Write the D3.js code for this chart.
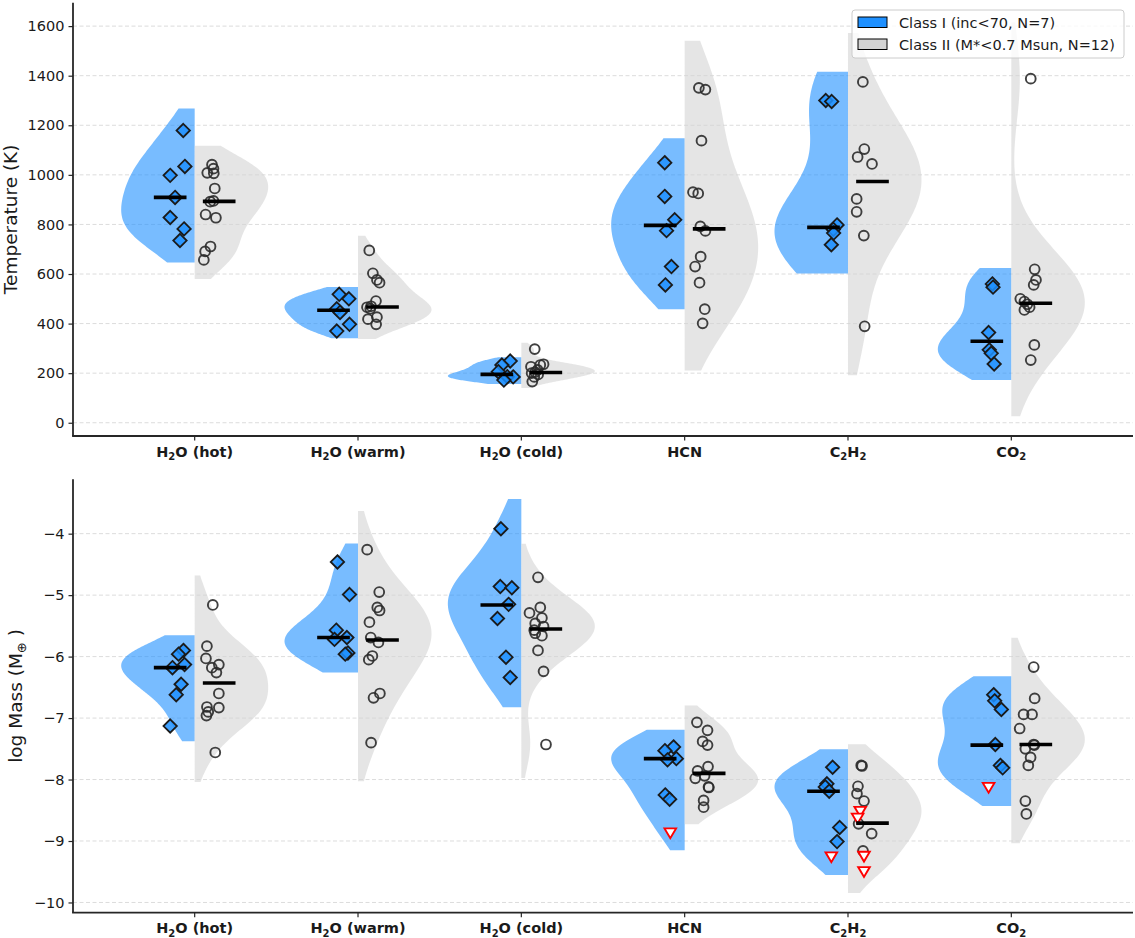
<!DOCTYPE html>
<html>
<head>
<meta charset="utf-8">
<script src="https://cdn.jsdelivr.net/npm/d3@7"></script>
<style>
  body { margin: 0; background: #fff; }
  svg { display: block; font-family: "DejaVu Sans", sans-serif; }
</style>
</head>
<body>
<svg id="chart" width="1135" height="938"></svg>
<script>
// categories ("_2" marks a subscript digit)
const categories = ["H_2O (hot)", "H_2O (warm)", "H_2O (cold)", "HCN", "C_2H_2", "CO_2"];
const tempTicks = [0, 200, 400, 600, 800, 1000, 1200, 1400, 1600];
const massTicks = [-10, -9, -8, -7, -6, -5, -4];
const legendLabels = ["Class I (inc<70, N=7)", "Class II (M*<0.7 Msun, N=12)"];

// temperature (K), Class I
const tempClassI = [
  [1179, 1034, 998, 909, 828, 782, 735],
  [518, 500, 460, 445, 397, 370],
  [249, 233, 206, 186, 185, 172],
  [1049, 913, 819, 775, 630, 556],
  [1300, 1296, 798, 780, 765, 718],
  [560, 547, 364, 294, 280, 237]
];
const tempClassIJitter = [
  [-0.07, -0.06, -0.15, -0.12, -0.15, -0.065, -0.09],
  [-0.115, -0.056, -0.13, -0.11, -0.052, -0.13],
  [-0.068, -0.119, -0.141, -0.086, -0.05, -0.107],
  [-0.122, -0.122, -0.061, -0.111, -0.081, -0.118],
  [-0.136, -0.1, -0.067, -0.09, -0.088, -0.102],
  [-0.116, -0.112, -0.139, -0.135, -0.123, -0.105]
];
const tempClassIMedian = [909, 454, 195, 796, 788, 329];

// temperature (K), Class II
const tempClassII = [
  [1041, 1025, 1008, 1006, 945, 895, 892, 840, 827, 711, 691, 657],
  [695, 603, 576, 565, 491, 470, 466, 460, 426, 418, 397],
  [297, 236, 233, 226, 213, 204, 200, 195, 185, 166],
  [1351, 1344, 1138, 930, 925, 792, 774, 670, 630, 565, 458, 401],
  [1375, 1104, 1072, 1044, 903, 851, 755, 389],
  [1388, 619, 576, 556, 500, 489, 478, 466, 455, 314, 253]
];
const tempClassIIJitter = [
  [0.106, 0.115, 0.077, 0.117, 0.123, 0.115, 0.095, 0.067, 0.13, 0.097, 0.064, 0.056],
  [0.069, 0.091, 0.116, 0.132, 0.11, 0.08, 0.055, 0.075, 0.116, 0.061, 0.111],
  [0.082, 0.136, 0.116, 0.059, 0.1, 0.085, 0.063, 0.103, 0.079, 0.067],
  [0.087, 0.127, 0.103, 0.051, 0.083, 0.096, 0.127, 0.098, 0.064, 0.091, 0.123, 0.11],
  [0.091, 0.1, 0.059, 0.147, 0.053, 0.053, 0.097, 0.102],
  [0.119, 0.143, 0.151, 0.137, 0.055, 0.08, 0.098, 0.112, 0.08, 0.141, 0.119]
];
const tempClassIIMedian = [893, 467, 203, 782, 973, 482];

// log mass (M_earth), Class I detections and upper limits
const massClassI = [
  [-5.90, -5.96, -6.13, -6.18, -6.45, -6.62, -7.13],
  [-4.46, -4.99, -5.57, -5.69, -5.72, -5.94, -5.96],
  [-3.92, -4.86, -4.88, -5.15, -5.38, -6.01, -6.34],
  [-7.47, -7.53, -7.66, -7.68, -8.25, -8.32],
  [-7.80, -8.07, -8.12, -8.19, -8.78, -9.01],
  [-6.62, -6.72, -6.86, -7.43, -7.77, -7.81]
];
const massClassIJitter = [
  [-0.069, -0.099, -0.062, -0.136, -0.083, -0.113, -0.15],
  [-0.126, -0.052, -0.133, -0.068, -0.144, -0.062, -0.078],
  [-0.125, -0.129, -0.058, -0.078, -0.146, -0.094, -0.068],
  [-0.068, -0.121, -0.051, -0.105, -0.119, -0.092],
  [-0.094, -0.129, -0.139, -0.115, -0.051, -0.067],
  [-0.108, -0.102, -0.061, -0.098, -0.067, -0.053]
];
const massClassILimits = [[], [], [], [-8.87], [-9.26], [-8.13]];
const massClassILimitsJitter = [[], [], [], [-0.088], [-0.102], [-0.139]];
const massClassIMedian = [-6.18, -5.69, -5.16, -7.66, -8.19, -7.44];

// log mass (M_earth), Class II detections and upper limits
const massClassII = [
  [-5.16, -5.83, -6.03, -6.13, -6.18, -6.26, -6.60, -6.82, -6.83, -6.90, -6.96, -7.56],
  [-4.26, -4.95, -5.20, -5.25, -5.44, -5.69, -5.77, -5.99, -6.05, -6.60, -6.67, -7.40],
  [-4.71, -5.20, -5.29, -5.37, -5.46, -5.51, -5.57, -5.62, -5.66, -5.90, -6.24, -7.43],
  [-7.07, -7.20, -7.38, -7.44, -7.79, -7.86, -7.94, -7.98, -8.12, -8.13, -8.34, -8.45],
  [-7.77, -7.78, -8.11, -8.23, -8.35, -8.72, -8.88, -9.16],
  [-6.17, -6.68, -6.94, -6.94, -7.17, -7.43, -7.44, -7.50, -7.64, -7.77, -8.35, -8.56]
];
const massClassIIJitter = [
  [0.111, 0.075, 0.069, 0.148, 0.105, 0.133, 0.148, 0.075, 0.148, 0.083, 0.072, 0.126],
  [0.056, 0.13, 0.118, 0.132, 0.07, 0.078, 0.125, 0.088, 0.066, 0.134, 0.095, 0.08],
  [0.102, 0.116, 0.05, 0.126, 0.085, 0.136, 0.079, 0.085, 0.126, 0.102, 0.136, 0.151],
  [0.075, 0.14, 0.11, 0.14, 0.143, 0.079, 0.122, 0.065, 0.146, 0.148, 0.116, 0.116],
  [0.081, 0.086, 0.061, 0.055, 0.098, 0.065, 0.145, 0.092],
  [0.137, 0.143, 0.075, 0.127, 0.051, 0.137, 0.141, 0.086, 0.118, 0.104, 0.086, 0.092]
];
const massClassIILimits = [[], [], [], [], [-8.52, -8.63, -9.25, -9.50], []];
const massClassIILimitsJitter = [[], [], [], [], [0.075, 0.059, 0.098, 0.098], []];
const massClassIIMedian = [-6.43, -5.73, -5.55, -7.90, -8.71, -7.43];

const blue = "#1E90FF", grey = "#D3D3D3";
const svg = d3.select("#chart");
const left = 73, right = 1133;

const x = d3.scaleLinear().domain([-0.745, 5.745]).range([left, right]);

// gaussian kde, scott bandwidth, support extended by 20% of the data range
function halfViolin(vals) {
  const n = vals.length, sd = d3.deviation(vals);
  const bw = sd * Math.pow(n, -0.2);
  const [lo, hi] = d3.extent(vals), r = hi - lo;
  const a = lo - 0.2 * r, b = hi + 0.2 * r;
  const grid = d3.range(121).map(i => a + (b - a) * i / 120);
  const dens = grid.map(t => d3.sum(vals, v => Math.exp(-0.5 * ((t - v) / bw) ** 2)));
  const mx = d3.max(dens);
  return grid.map((t, i) => [t, dens[i] / mx]);
}

const diamond = { draw(ctx, s) { ctx.moveTo(0, -s); ctx.lineTo(s, 0); ctx.lineTo(0, s); ctx.lineTo(-s, 0); ctx.closePath(); } };
const triDown = { draw(ctx, s) { ctx.moveTo(-s, -s * 0.8); ctx.lineTo(s, -s * 0.8); ctx.lineTo(0, s * 0.9); ctx.closePath(); } };

function addLabel(sel, label) {
  const parts = label.split(/_(\d)/);
  parts.forEach((p, i) => {
    if (!p) return;
    if (i % 2 === 1) {
      sel.append("tspan").attr("font-size", 10).attr("dy", 3.5).text(p);
    } else {
      const t = sel.append("tspan").text(p);
      if (i > 0 && parts[i - 1]) t.attr("dy", -3.5);
    }
  });
}

function drawPanel(opt) {
  const g = svg.append("g");
  const { top, bottom } = opt;
  const all = [];
  opt.series.forEach(s => s.vals.forEach((v, i) => all.push(v.concat(s.lims[i]))));
  let lo = Infinity, hi = -Infinity;
  all.forEach(v => { const [a, b] = d3.extent(v); const r = b - a; lo = Math.min(lo, a - 0.2 * r); hi = Math.max(hi, b + 0.2 * r); });
  const pad = 0.05 * (hi - lo);
  const y = d3.scaleLinear().domain([lo - pad, hi + pad]).range([bottom, top]);

  // grid
  g.append("g").selectAll("line").data(opt.ticks).join("line")
    .attr("x1", left).attr("x2", right)
    .attr("y1", d => y(d)).attr("y2", d => y(d))
    .attr("stroke", "#dcdcdc").attr("stroke-width", 1).attr("stroke-dasharray", "4,2.5");

  // violins
  opt.series.forEach(s => {
    s.vals.forEach((v, i) => {
      const dens = halfViolin(v.concat(s.lims[i]));
      const area = d3.area()
        .y(d => y(d[0]))
        .x0(() => x(i))
        .x1(d => x(i + s.side * 0.45 * d[1]));
      g.append("path").attr("d", area(dens)).attr("fill", s.color).attr("fill-opacity", 0.6);
    });
  });

  // points
  opt.series.forEach(s => {
    s.vals.forEach((v, i) => {
      const pts = v.map((val, k) => [i + s.jit[i][k], val]);
      if (s.marker === "D") {
        g.append("g").selectAll("path").data(pts).join("path")
          .attr("d", d3.symbol(diamond, 6.7))
          .attr("transform", d => `translate(${x(d[0])},${y(d[1])})`)
          .attr("fill", blue).attr("fill-opacity", 0.85)
          .attr("stroke", "#1a1a1a").attr("stroke-width", 1.8).attr("stroke-linejoin", "miter");
      } else {
        g.append("g").selectAll("circle").data(pts).join("circle")
          .attr("cx", d => x(d[0])).attr("cy", d => y(d[1])).attr("r", 4.9)
          .attr("fill", "none").attr("stroke", "#2b2b2b").attr("stroke-opacity", 0.9).attr("stroke-width", 1.9);
      }
      const lp = s.lims[i].map((val, k) => [i + s.limJit[i][k], val]);
      g.append("g").selectAll("path").data(lp).join("path")
        .attr("d", d3.symbol(triDown, 5.8))
        .attr("transform", d => `translate(${x(d[0])},${y(d[1])})`)
        .attr("fill", "white").attr("stroke", "#ff0000").attr("stroke-width", 1.9);
    });
  });

  // medians
  opt.series.forEach(s => {
    g.append("g").selectAll("line").data(s.med).join("line")
      .attr("x1", (d, i) => x(i + s.side * 0.05)).attr("x2", (d, i) => x(i + s.side * 0.25))
      .attr("y1", d => y(d)).attr("y2", d => y(d))
      .attr("stroke", "#000").attr("stroke-width", 3.6);
  });

  // y axis
  const ya = g.append("g").attr("transform", `translate(${left},0)`)
    .call(d3.axisLeft(y).tickValues(opt.ticks).tickSize(4.5).tickPadding(4).tickFormat(d => d3.format("d")(d).replace("-", "\u2212")));
  ya.select(".domain").remove();
  ya.selectAll("line").attr("stroke", "#262626").attr("stroke-width", 1.2);
  ya.selectAll("text").attr("font-size", 14.5).attr("fill", "#1a1a1a").attr("font-family", "DejaVu Sans");

  // x axis
  const xa = g.append("g").attr("transform", `translate(0,${bottom})`);
  xa.selectAll("line").data(categories).join("line")
    .attr("x1", (d, i) => x(i)).attr("x2", (d, i) => x(i)).attr("y1", 0).attr("y2", 4.5)
    .attr("stroke", "#262626").attr("stroke-width", 1.2);
  xa.selectAll("text").data(categories).join("text")
    .attr("x", (d, i) => x(i)).attr("y", 20.5)
    .attr("text-anchor", "middle").attr("font-size", 14.5).attr("font-weight", "bold").attr("fill", "#1a1a1a")
    .each(function (d) { addLabel(d3.select(this), d); });

  // spines
  g.append("line").attr("x1", left).attr("x2", left).attr("y1", top).attr("y2", bottom)
    .attr("stroke", "#262626").attr("stroke-width", 1.8);
  g.append("line").attr("x1", left - 0.9).attr("x2", right).attr("y1", bottom).attr("y2", bottom)
    .attr("stroke", "#262626").attr("stroke-width", 1.8);

  // y label
  const yl = g.append("text")
    .attr("transform", `translate(${opt.labelX},${(top + bottom) / 2}) rotate(-90)`)
    .attr("text-anchor", "middle").attr("font-size", 18.5).attr("fill", "#1a1a1a");
  opt.label(yl);
  return g;
}

drawPanel({
  top: 2.7, bottom: 436, ticks: tempTicks, labelX: 16.5,
  label: t => t.text("Temperature (K)"),
  series: [
    { vals: tempClassI, jit: tempClassIJitter, lims: tempClassI.map(() => []), limJit: [], med: tempClassIMedian, side: -1, color: blue, marker: "D" },
    { vals: tempClassII, jit: tempClassIIJitter, lims: tempClassII.map(() => []), limJit: [], med: tempClassIIMedian, side: 1, color: grey, marker: "o" }
  ]
});

drawPanel({
  top: 479.3, bottom: 912.7, ticks: massTicks, labelX: 22,
  label: t => {
    t.append("tspan").text("log Mass (M");
    t.append("tspan").attr("font-size", 13).attr("dy", 4).text("\u2295");
    t.append("tspan").attr("dy", -4).text(" )");
  },
  series: [
    { vals: massClassI, jit: massClassIJitter, lims: massClassILimits, limJit: massClassILimitsJitter, med: massClassIMedian, side: -1, color: blue, marker: "D" },
    { vals: massClassII, jit: massClassIIJitter, lims: massClassIILimits, limJit: massClassIILimitsJitter, med: massClassIIMedian, side: 1, color: grey, marker: "o" }
  ]
});

// legend (upper right of top panel)
const lg = svg.append("g").attr("transform", "translate(852,10)");
lg.append("rect").attr("width", 272).attr("height", 48).attr("rx", 3)
  .attr("fill", "white").attr("fill-opacity", 0.8).attr("stroke", "#cccccc").attr("stroke-width", 1);
const legendColors = [blue, grey];
legendLabels.forEach((lab, i) => {
  lg.append("rect").attr("x", 6).attr("y", 7 + i * 22).attr("width", 29).attr("height", 10.5)
    .attr("fill", legendColors[i]).attr("stroke", "#000").attr("stroke-width", 1);
  lg.append("text").attr("x", 47).attr("y", 17.5 + i * 22)
    .attr("font-size", 14.5).attr("fill", "#1a1a1a").text(lab);
});
</script>
</body>
</html>
